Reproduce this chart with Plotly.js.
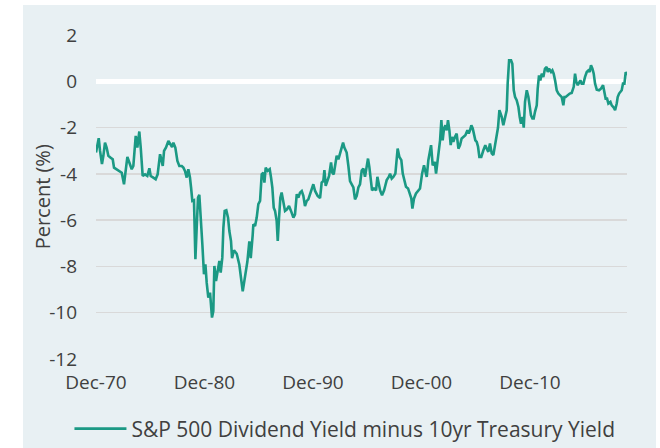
<!DOCTYPE html>
<html>
<head>
<meta charset="utf-8">
<script src="https://cdn.plot.ly/plotly-3.0.1.min.js"></script>
<style>
  html, body { margin: 0; padding: 0; background: #ffffff; }
  #chart { width: 660px; height: 448px; }
</style>
</head>
<body>
<div id="chart"></div>
<script>
// ---- Data ----
const seriesName = "S&P 500 Dividend Yield minus 10yr Treasury Yield";
const yAxisTitle = "Percent (%)";
const yTickValues = [-12, -10, -8, -6, -4, -2, 0, 2];
const yTickLabels = ["-12", "-10", "-8", "-6", "-4", "-2", "0", "2"];

// Observation times as decimal years
const obsYears = [
  1970.92,1971.04,1971.17,1971.29,1971.47,1971.60,1971.75,1971.90,1972.06,1972.27,
  1972.46,1972.58,1972.83,1973.07,1973.29,1973.50,1973.66,1973.81,1973.99,1974.21,
  1974.36,1974.58,1974.73,1974.91,1975.04,1975.22,1975.44,1975.65,1975.84,1975.96,
  1976.20,1976.42,1976.60,1976.82,1976.97,1977.07,1977.19,1977.37,1977.59,1977.74,
  1977.93,1978.05,1978.23,1978.42,1978.60,1978.82,1978.97,1979.12,1979.28,1979.43,
  1979.58,1979.68,1979.80,1979.95,1980.08,1980.20,1980.32,1980.44,1980.57,1980.72,
  1980.87,1981.00,1981.12,1981.27,1981.43,1981.61,1981.73,1981.83,1981.98,1982.13,
  1982.29,1982.41,1982.56,1982.66,1982.78,1982.93,1983.09,1983.21,1983.36,1983.46,
  1983.64,1983.89,1984.13,1984.44,1984.65,1984.87,1985.05,1985.18,1985.36,1985.42,
  1985.58,1985.73,1985.88,1986.04,1986.19,1986.34,1986.44,1986.56,1986.74,1986.93,
  1987.05,1987.17,1987.30,1987.42,1987.57,1987.67,1987.79,1987.91,1988.03,1988.19,
  1988.34,1988.52,1988.71,1988.89,1989.11,1989.26,1989.42,1989.57,1989.72,1989.88,
  1990.03,1990.18,1990.34,1990.49,1990.65,1990.80,1990.95,1991.11,1991.35,1991.57,
  1991.72,1991.87,1991.97,1992.09,1992.27,1992.40,1992.58,1992.70,1992.83,1992.95,
  1993.10,1993.26,1993.41,1993.56,1993.69,1993.81,1994.02,1994.18,1994.33,1994.49,
  1994.64,1994.79,1994.95,1995.10,1995.25,1995.41,1995.56,1995.71,1995.87,1995.99,
  1996.11,1996.24,1996.36,1996.54,1996.73,1996.85,1996.97,1997.10,1997.28,1997.47,
  1997.59,1997.71,1997.90,1998.02,1998.17,1998.32,1998.51,1998.63,1998.72,1998.88,
  1999.06,1999.19,1999.31,1999.49,1999.68,1999.86,1999.98,2000.08,2000.23,2000.41,
  2000.60,2000.78,2000.97,2001.15,2001.28,2001.40,2001.55,2001.71,2001.80,2001.95,
  2002.14,2002.26,2002.38,2002.50,2002.63,2002.75,2002.87,2002.99,2003.12,2003.24,
  2003.36,2003.49,2003.61,2003.73,2003.85,2004.01,2004.16,2004.32,2004.47,2004.62,
  2004.78,2004.96,2005.15,2005.27,2005.39,2005.51,2005.64,2005.76,2005.88,2006.01,
  2006.13,2006.25,2006.43,2006.62,2006.80,2006.93,2007.08,2007.23,2007.39,2007.54,
  2007.70,2007.85,2007.97,2008.10,2008.31,2008.46,2008.62,2008.77,2008.86,2008.99,
  2009.17,2009.29,2009.42,2009.54,2009.69,2009.85,2009.97,2010.09,2010.22,2010.34,
  2010.46,2010.62,2010.77,2010.89,2011.01,2011.14,2011.26,2011.38,2011.54,2011.63,
  2011.75,2011.87,2012.00,2012.15,2012.30,2012.46,2012.55,2012.67,2012.86,2012.98,
  2013.10,2013.23,2013.38,2013.53,2013.69,2013.84,2013.99,2014.09,2014.21,2014.39,
  2014.58,2014.76,2014.95,2015.07,2015.19,2015.32,2015.44,2015.56,2015.68,2015.84,
  2015.99,2016.15,2016.30,2016.42,2016.54,2016.67,2016.79,2016.91,2017.07,2017.28,
  2017.46,2017.65,2017.77,2017.89,2018.02,2018.14,2018.33,2018.45,2018.60,2018.76,
  2018.91,2019.00,2019.13,2019.25,2019.37,2019.49,2019.62,2019.74,2019.86
];

// Dividend yield minus 10yr Treasury yield, percent
const spreadValues = [
  -3.08,-2.79,-2.46,-3.00,-3.58,-3.22,-2.65,-2.86,-3.22,-3.30,
  -3.37,-3.73,-3.80,-3.87,-3.95,-4.45,-3.80,-3.27,-3.51,-3.80,
  -3.66,-2.36,-2.86,-2.17,-2.86,-4.09,-4.02,-4.09,-3.76,-4.09,
  -4.16,-4.23,-4.02,-3.15,-3.44,-3.66,-3.01,-2.86,-2.58,-2.72,
  -2.84,-2.65,-2.86,-3.44,-3.66,-3.66,-3.73,-3.87,-4.16,-3.80,
  -4.16,-4.59,-5.17,-5.14,-7.69,-6.32,-5.03,-4.91,-6.17,-7.04,
  -8.34,-7.91,-8.70,-9.35,-9.13,-10.21,-9.93,-7.98,-8.63,-8.12,
  -7.76,-8.27,-7.62,-6.32,-5.60,-5.57,-5.89,-6.47,-6.90,-7.64,
  -7.30,-7.45,-7.93,-9.08,-8.40,-7.79,-6.92,-7.64,-6.64,-6.18,
  -6.25,-5.89,-5.31,-5.17,-4.02,-3.95,-4.38,-3.73,-3.87,-3.80,
  -4.16,-4.59,-5.46,-5.60,-6.03,-6.90,-5.89,-5.03,-4.81,-5.17,
  -5.60,-5.53,-5.39,-5.60,-5.89,-5.75,-4.88,-5.03,-4.81,-4.74,
  -4.95,-5.39,-5.17,-5.10,-4.88,-4.67,-4.45,-4.74,-4.95,-5.05,
  -4.38,-4.31,-3.84,-4.52,-4.31,-4.09,-3.51,-3.95,-4.02,-3.66,
  -3.22,-3.37,-3.08,-2.86,-2.65,-2.86,-3.08,-3.66,-4.31,-4.45,
  -4.59,-5.10,-4.95,-4.59,-4.45,-3.86,-3.77,-4.13,-3.63,-3.34,
  -3.70,-4.27,-4.71,-4.63,-4.71,-4.13,-4.42,-4.71,-4.92,-4.71,
  -4.49,-4.27,-4.13,-3.99,-4.20,-4.13,-3.99,-3.41,-2.91,-3.27,
  -3.41,-3.99,-4.20,-4.56,-4.63,-4.85,-5.06,-5.50,-5.06,-4.85,
  -4.71,-4.63,-3.99,-3.63,-3.91,-4.13,-3.41,-2.98,-2.76,-3.63,
  -3.48,-3.99,-3.55,-3.27,-2.55,-1.68,-2.55,-2.04,-1.90,-2.12,
  -1.68,-2.12,-2.76,-2.40,-2.62,-2.40,-2.26,-2.91,-2.76,-2.47,
  -2.40,-2.33,-2.12,-2.26,-2.12,-1.90,-2.04,-2.33,-2.55,-2.62,
  -2.83,-3.27,-3.27,-2.98,-2.76,-2.91,-3.05,-2.69,-3.12,-3.19,
  -2.69,-2.40,-2.00,-1.25,-1.54,-1.90,-1.54,-1.25,-0.10,0.91,
  0.91,0.76,-0.39,-0.68,-0.82,-1.11,-1.54,-1.83,-1.54,-2.00,
  -0.89,-0.39,-0.68,-1.04,-1.47,-1.61,-1.61,-1.32,-1.04,-0.32,
  0.26,0.04,0.33,0.19,0.55,0.62,0.40,0.55,0.40,0.47,
  0.33,0.04,-0.39,-0.53,-0.60,-0.68,-1.04,-0.68,-0.68,-0.60,
  -0.53,-0.50,-0.24,0.33,-0.03,-0.17,-0.03,0.04,-0.10,-0.10,
  0.19,0.40,0.47,0.40,0.69,0.55,0.33,-0.10,-0.36,-0.39,
  -0.32,-0.17,-0.46,-0.75,-0.75,-0.96,-0.89,-1.04,-1.11,-1.25,
  -0.96,-0.68,-0.53,-0.46,-0.39,-0.10,-0.10,0.40,0.26
];

// ---- Helpers ----
function decimalYearToISO(d) {
  const y = Math.floor(d);
  const start = Date.UTC(y, 0, 1);
  const end = Date.UTC(y + 1, 0, 1);
  const t = start + (d - y) * (end - start);
  return new Date(t).toISOString().slice(0, 10);
}
const xDates = obsYears.map(decimalYearToISO);

const textColor = "#404040";
const fontFamily = "'Open Sans', 'Noto Sans', sans-serif";

const trace = {
  type: "scatter",
  mode: "lines",
  name: seriesName,
  x: xDates,
  y: spreadValues,
  line: { color: "#1b9984", width: 2.6 },
  hoverinfo: "x+y"
};

const layout = {
  width: 660,
  height: 448,
  margin: { l: 96, r: 33, t: 35, b: 89, autoexpand: false },
  paper_bgcolor: "#ffffff",
  plot_bgcolor: "rgba(0,0,0,0)",
  font: { family: fontFamily, size: 19, color: textColor },
  showlegend: true,
  legend: {
    orientation: "h",
    x: -0.05,
    xanchor: "left",
    y: -0.216,
    yanchor: "middle",
    itemwidth: 52,
    bgcolor: "rgba(0,0,0,0)",
    font: { family: fontFamily, size: 21, color: textColor }
  },
  xaxis: {
    type: "date",
    range: [decimalYearToISO(obsYears[0]), decimalYearToISO(obsYears[obsYears.length - 1])],
    tick0: "1970-12-01",
    dtick: "M120",
    tickformat: "%b-%y",
    showgrid: false,
    zeroline: false,
    showline: false,
    ticks: "",
    ticklabelstandoff: 10,
    tickfont: { family: fontFamily, size: 19, color: textColor },
    fixedrange: true
  },
  yaxis: {
    range: [-12, 2],
    tickvals: yTickValues,
    ticktext: yTickLabels,
    showgrid: true,
    gridcolor: "#d9d9d9",
    gridwidth: 1.5,
    zeroline: true,
    zerolinecolor: "#ffffff",
    zerolinewidth: 5,
    showline: false,
    ticks: "",
    ticklabelstandoff: 18,
    tickfont: { family: fontFamily, size: 19, color: textColor },
    fixedrange: true
  },
  annotations: [{
    text: yAxisTitle,
    xref: "paper", yref: "paper",
    x: -0.101, y: 0.5,
    xanchor: "center", yanchor: "middle",
    textangle: -90,
    showarrow: false,
    font: { family: fontFamily, size: 20, color: textColor }
  }],
  shapes: [{
    type: "rect",
    xref: "paper", yref: "paper",
    x0: -0.1375, x1: 1.0546, y0: -0.3, y1: 1.0926,
    fillcolor: "#e8f0f3",
    line: { width: 0 },
    layer: "below"
  }]
};

Plotly.newPlot("chart", [trace], layout, { displayModeBar: false, staticPlot: true });
</script>
</body>
</html>
